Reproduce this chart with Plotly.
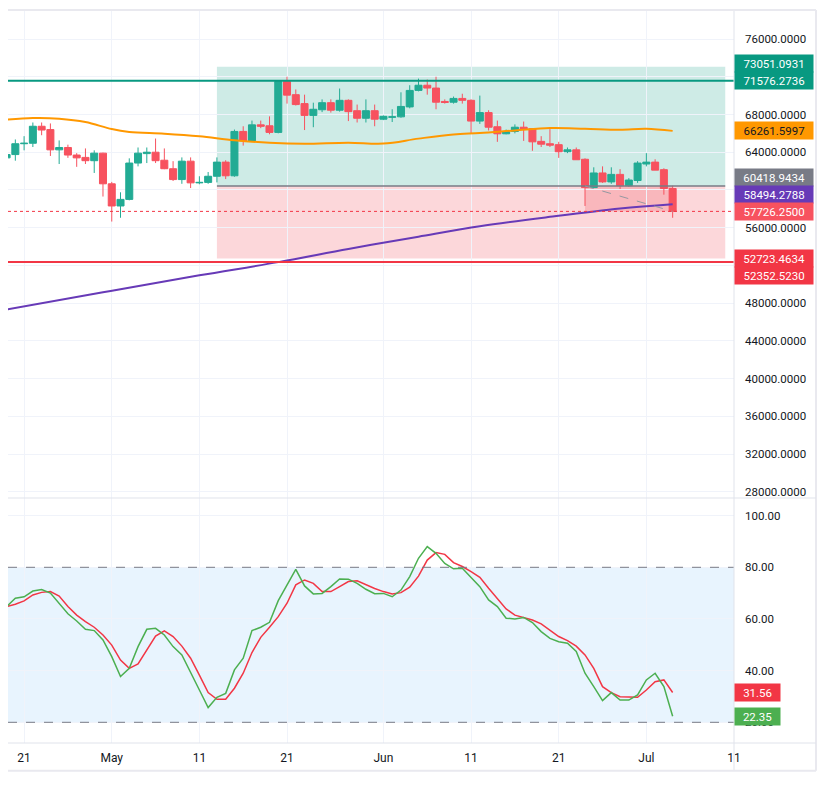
import pandas as pd
import plotly.graph_objects as go
from plotly.subplots import make_subplots

# daily candles, 18 Apr - 4 Jul 2024
dates = pd.date_range("2024-04-18", "2024-07-04", freq="D")

opens = [61300, 63400, 63750, 64900, 64950, 66750, 66400, 64250, 64500, 63700, 63450, 63100, 63900,
         60650, 58300, 59000, 62850, 63850, 64000, 63150, 62250, 61100, 63050, 60750, 60800, 61450,
         62950, 61500, 66200, 65200, 66900, 66800, 66100, 71500, 70100, 69150, 67900, 68500, 69250,
         68450, 69500, 68400, 67600, 68400,
         67500, 67700, 67750, 68800, 70550, 71100, 70800, 69380, 69300, 69700, 69500, 67300, 68200,
         66700, 65950, 66200, 66650, 66500, 65150, 64900, 64800, 64050, 64250, 63250, 60250, 61800,
         60850, 61650, 60450, 61000,
         62750, 62950, 62150, 60150]
highs = [65300, 65350, 65350, 65700, 67150, 67150, 67050, 65250, 64800, 63900, 64400, 64200, 63950,
         60850, 59750, 63350, 64500, 64500, 65450, 64400, 63050, 63450, 63450, 61450, 61900, 63450,
         63150, 66400, 66750, 67350, 67350, 67800, 71550, 72000, 70650, 70100, 69250, 69600, 69600,
         70750, 69600, 69050, 69600, 69050,
         67900, 68550, 70350, 71100, 71800, 71700, 72000, 69600, 69900, 70200, 69600, 70000, 68450,
         67350, 66400, 66950, 67250, 66550, 65700, 66450, 65100, 64500, 64500, 63350, 62400, 62500,
         62400, 62200, 61250, 63050,
         63900, 63250, 62300, 60450]
lows = [60900, 59650, 63100, 64200, 64550, 65800, 63600, 62750, 63400, 62450, 62750, 61800, 59300,
        56650, 57050, 58900, 62500, 62850, 62850, 62200, 60950, 60650, 60200, 60600, 60650, 60800,
        61150, 61400, 64700, 65150, 66550, 65900, 66000, 69150, 68950, 66350, 66650, 68250, 68200,
        68300, 67300, 67150, 67150, 66750,
        67400, 67200, 67650, 68650, 70450, 70100, 68550, 69150, 69150, 69150, 66000, 67000, 66300,
        65100, 65900, 66000, 65200, 64150, 64550, 64550, 63400, 63900, 63200, 58300, 60250, 60750,
        60650, 60100, 60350, 60750,
        62500, 62100, 59500, 57050]
closes = [63500, 63750, 64900, 64950, 66750, 66350, 64250, 64500, 63700, 63400, 63100, 63900, 60650,
          58300, 59000, 62850, 63900, 64000, 63100, 62250, 61100, 63050, 60750, 60800, 61450, 62950,
          61500, 66200, 65200, 66900, 66750, 66100, 71500, 70050, 69050, 67900, 68550, 69250, 68450,
          69500, 68300, 67600, 68400, 67500,
          67800, 67750, 68850, 70550, 71100, 70800, 69300, 69280, 69700, 69500, 67300, 68200, 66650,
          65950, 66200, 66650, 66450, 65100, 64850, 64750, 64050, 64250, 63200, 60250, 61800, 60850,
          61650, 60450, 61050, 62850,
          62950, 62100, 60150, 57726.25]

# stochastic RSI
stoch_k = [65.2, 64.8, 68.0, 68.6, 70.8, 71.4, 70.0, 66.0, 62.0, 59.2, 56.0, 55.5, 51.9,
           45.4, 37.7, 40.9, 49.3, 56.0, 56.4, 53.8, 49.3, 46.1, 39.0, 32.5, 25.7, 29.7, 31.2,
           40.3, 44.8, 55.5, 56.8, 58.7, 67.1, 73.2, 79.2, 72.8, 69.7, 69.9, 72.5, 75.5, 75.4,
           73.8, 71.5, 69.8,
           69.9, 68.6, 71.2, 76.4, 83.5, 88.0, 85.4, 81.5, 79.4, 79.6, 76.1, 72.5, 67.4, 64.8,
           60.3, 60.0, 60.6, 58.6, 55.1, 52.5, 51.2, 50.6, 47.4, 39.0, 33.8, 28.4, 31.5, 28.6,
           28.6, 30.6,
           36.4, 39.0, 33.8, 22.35]
stoch_d = [66.1, 64.8, 65.7, 67.0, 69.3, 70.3, 70.6, 68.9, 64.8, 61.5, 59.0, 56.8, 53.8,
           49.9, 44.1, 40.9, 42.6, 48.0, 53.4, 55.4, 53.2, 49.5, 44.8, 38.3, 31.5, 28.9, 28.9,
           33.2, 39.0, 47.0, 52.9, 56.8, 60.9, 66.1, 73.2, 75.1, 73.8, 70.6, 70.6, 72.5, 74.5,
           74.8, 73.2, 71.8,
           70.6, 69.7, 70.2, 72.3, 76.6, 82.8, 85.7, 85.0, 81.8, 80.3, 78.3, 76.1, 71.9, 68.0,
           63.9, 61.5, 60.6, 59.6, 58.1, 55.5, 53.2, 51.6, 49.5, 46.1, 40.9, 33.8, 31.5, 29.9,
           29.7, 29.7,
           32.5, 35.7, 36.4, 31.56]

# moving averages
ma_fast_dates = ["2024-04-18", "2024-04-22", "2024-04-25", "2024-04-28", "2024-05-01", "2024-05-03",
                 "2024-05-07", "2024-05-11", "2024-05-15", "2024-05-19", "2024-05-23", "2024-05-28",
                 "2024-06-01", "2024-06-05", "2024-06-09", "2024-06-12", "2024-06-16", "2024-06-20",
                 "2024-06-24", "2024-06-28", "2024-07-01", "2024-07-04"]
ma_fast = [67370, 67620, 67550, 67200, 66450, 66150, 65960, 65680, 65260, 65000, 64900, 65010,
           64910, 65440, 65890, 66030, 66300, 66560, 66490, 66390, 66490, 66261.5997]
ma_slow_dates = ["2024-04-18", "2024-04-30", "2024-05-11", "2024-05-20", "2024-05-28", "2024-06-05",
                 "2024-06-12", "2024-06-20", "2024-06-28", "2024-07-04"]
ma_slow = [47150, 49150, 50950, 52350, 53750, 55050, 56150, 57150, 58040, 58494.2788]

# long position tool and levels
entry_price = 60418.9434
target_price = 73051.0931
stop_price = 52723.4634
resistance = 71576.2736
support = 52352.5230
last_price = 57726.25
position_start = "2024-05-13"
position_end = "2024-07-10"
entry_hit = "2024-06-24"

tick_dates = ["2024-04-21", "2024-05-01", "2024-05-11", "2024-05-21", "2024-06-01",
              "2024-06-11", "2024-06-21", "2024-07-01", "2024-07-11"]
tick_text = ["21", "May", "11", "21", "Jun", "11", "21", "Jul", "11"]
price_ticks = list(range(28000, 76001, 4000))
price_tick_text = ["" if v in (72000, 60000, 52000) else f"{v}.0000" for v in price_ticks]

UP = "#22ab94"
DOWN = "#f7525f"
RED = "#f23645"
TEAL = "#089981"
GRID = "#f0f3fa"
LINE = "#e0e3eb"
TXT = "#131722"
FONT = "Roboto"

fig = make_subplots(rows=2, cols=1, shared_xaxes=True, vertical_spacing=0,
                    row_heights=[0.6653, 0.3347])

fig.add_trace(go.Scatter(x=ma_slow_dates, y=ma_slow, mode="lines", line_shape="spline",
                         line=dict(color="#673ab7", width=2), showlegend=False, hoverinfo="skip"),
              row=1, col=1)
fig.add_trace(go.Scatter(x=ma_fast_dates, y=ma_fast, mode="lines", line_shape="spline",
                         line=dict(color="#ff9800", width=2), showlegend=False, hoverinfo="skip"),
              row=1, col=1)
fig.add_trace(go.Candlestick(
    x=dates, open=opens, high=highs, low=lows, close=closes,
    increasing=dict(line=dict(color=UP, width=1), fillcolor=UP),
    decreasing=dict(line=dict(color=DOWN, width=1), fillcolor=DOWN),
    whiskerwidth=0, showlegend=False), row=1, col=1)

fig.add_trace(go.Scatter(x=dates, y=stoch_d, mode="lines", line=dict(color=RED, width=1.5),
                         showlegend=False), row=2, col=1)
fig.add_trace(go.Scatter(x=dates, y=stoch_k, mode="lines", line=dict(color="#4caf50", width=1.5),
                         showlegend=False), row=2, col=1)

# position boxes
fig.add_shape(type="rect", xref="x", yref="y", x0=position_start, x1=position_end,
              y0=entry_price, y1=target_price, fillcolor="rgba(8,153,129,0.2)",
              line_width=0, layer="below")
fig.add_shape(type="rect", xref="x", yref="y", x0=position_start, x1=position_end,
              y0=stop_price, y1=entry_price, fillcolor="rgba(242,54,69,0.2)",
              line_width=0, layer="below")
fig.add_shape(type="rect", xref="x", yref="y", x0=entry_hit, x1=dates[-1],
              y0=last_price, y1=entry_price, fillcolor="rgba(242,54,69,0.2)",
              line_width=0, layer="below")
fig.add_shape(type="line", xref="x", yref="y", x0=position_start, x1=position_end,
              y0=entry_price, y1=entry_price, line=dict(color="#787b86", width=1.5))
fig.add_shape(type="line", xref="x", yref="y", x0=entry_hit, x1=dates[-1],
              y0=entry_price, y1=last_price, line=dict(color="#9598a1", width=1, dash="dash"))

# horizontal levels
fig.add_shape(type="line", xref="x domain", yref="y", x0=0, x1=1, y0=resistance, y1=resistance,
              line=dict(color=TEAL, width=2))
fig.add_shape(type="line", xref="x domain", yref="y", x0=0, x1=1, y0=support, y1=support,
              line=dict(color=RED, width=2))
fig.add_shape(type="line", xref="x domain", yref="y", x0=0, x1=1, y0=last_price, y1=last_price,
              line=dict(color=RED, width=1, dash="dot"))

# stoch band
fig.add_shape(type="rect", xref="x2 domain", yref="y2", x0=0, x1=1, y0=20, y1=80,
              fillcolor="rgba(33,150,243,0.1)", line_width=0, layer="below")
for lvl in (20, 80):
    fig.add_shape(type="line", xref="x2 domain", yref="y2", x0=0, x1=1, y0=lvl, y1=lvl,
                  line=dict(color="#787b86", width=1, dash="dash"))

# frame (page has an 8px body margin, plot area is 726 x 732)
right_edge = 808 / 726
bottom_edge = -27.7 / 732
top_edge = 1 + 1 / 732
split = 0.3347
for x0, y0, x1, y1, col, w in [
    (0, top_edge, right_edge, top_edge, "#e9e9ef", 2),
    (1, bottom_edge, 1, 1, LINE, 1),
    (right_edge, bottom_edge, right_edge, top_edge, "#e9e9ef", 2),
    (0, bottom_edge, right_edge, bottom_edge, "#e9e9ef", 2),
    (0, 0, right_edge, 0, LINE, 1),
    (0, split, right_edge, split, LINE, 1),
]:
    fig.add_shape(type="line", xref="paper", yref="paper", x0=x0, y0=y0, x1=x1, y1=y1,
                  line=dict(color=col, width=w))

# axis labels
price_labels = [
    (target_price, TEAL, "white", 3.5),
    (resistance, TEAL, "white", 0),
    (ma_fast[-1], "#ff9800", TXT, 0),
    (entry_price, "#787b86", "white", 8.8),
    (ma_slow[-1], "#673ab7", "white", 10),
    (last_price, DOWN, "white", 0),
    (stop_price, RED, "white", 0),
    (support, RED, "white", -13.7),
]
for val, bg, fc, shift in price_labels:
    fig.add_annotation(x=1, xref="paper", y=val, yref="y", xanchor="left", yanchor="middle",
                       text=f"{val:.4f}", showarrow=False, bgcolor=bg, width=75, borderpad=1.6,
                       yshift=shift, font=dict(color=fc, size=11.5, family=FONT))
for val, bg in [(stoch_d[-1], RED), (stoch_k[-1], "#4caf50")]:
    fig.add_annotation(x=1, xref="paper", y=val, yref="y2", xanchor="left", yanchor="middle",
                       text=f"{val:.2f}", showarrow=False, bgcolor=bg, width=42, borderpad=1.6,
                       font=dict(color="white", size=11.5, family=FONT))

x_common = dict(range=["2024-04-19 03:54", "2024-07-11 00:00"], showgrid=True, gridcolor=GRID,
                tickvals=tick_dates, ticktext=tick_text, showline=False, zeroline=False)
fig.update_xaxes(**x_common, rangeslider_visible=False)
fig.update_xaxes(showticklabels=False, row=1, col=1)
fig.update_xaxes(tickfont=dict(color=TXT, size=12, family=FONT), ticklabelstandoff=6, row=2, col=1)

fig.update_yaxes(side="right", range=[27346, 78968], tickvals=price_ticks, ticktext=price_tick_text,
                 showgrid=True, gridcolor=GRID, zeroline=False,
                 ticklabelstandoff=10, tickfont=dict(color=TXT, size=11.5, family=FONT), row=1, col=1)
fig.update_yaxes(side="right", range=[11.99, 106.83], tickvals=[20, 40, 60, 80, 100],
                 tickformat=".2f", showgrid=True, gridcolor=GRID, zeroline=False,
                 ticklabelstandoff=10, tickfont=dict(color=TXT, size=11.5, family=FONT), row=2, col=1)

fig.update_layout(width=818, height=798, margin=dict(l=0, r=92, t=3, b=63),
                  paper_bgcolor="white", plot_bgcolor="white", boxgap=0.2, boxgroupgap=0,
                  font=dict(family=FONT, color=TXT), showlegend=False, hovermode=False)

fig.write_html("out.html")
